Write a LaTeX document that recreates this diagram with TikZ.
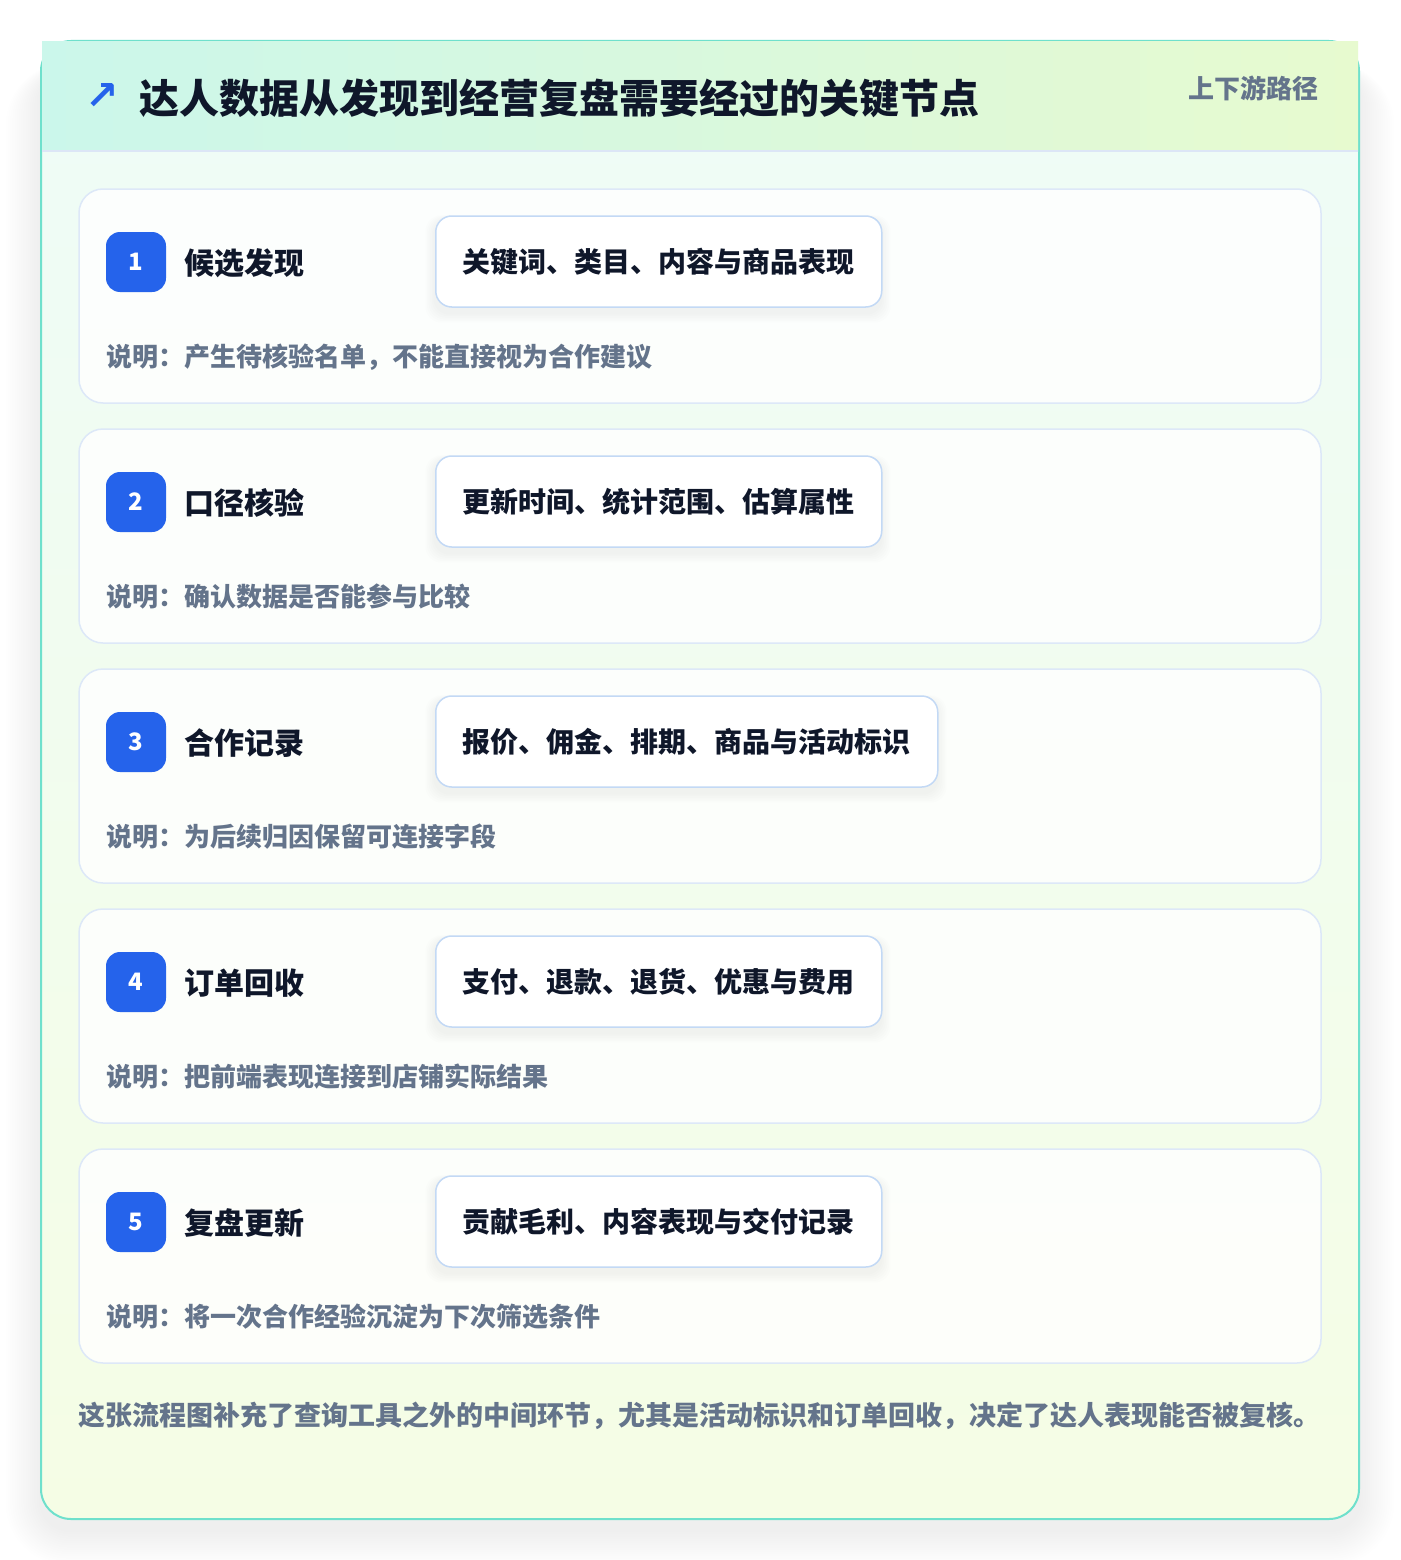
\documentclass[tikz,border=0pt]{standalone}
\usepackage{fontspec}
\setmainfont{Noto Sans CJK SC}
\newfontfamily\symfont{DejaVu Sans}
\definecolor{pagebg}{HTML}{FFFFFF}
\definecolor{cardtop}{HTML}{EEFCF7}
\definecolor{cardbot}{HTML}{F5FDE5}
\definecolor{cardborder}{HTML}{6FE0CC}
\definecolor{headL}{HTML}{CBF7EB}
\definecolor{headR}{HTML}{E7FACF}
\definecolor{headline}{HTML}{DCE6F6}
\definecolor{stepborder}{HTML}{DDE8F8}
\definecolor{tagborder}{HTML}{C3D9F5}
\definecolor{badgeblue}{HTML}{2563EB}
\definecolor{ink}{HTML}{0F172A}
\definecolor{muted}{HTML}{64748B}
\begin{document}
\begin{tikzpicture}[x=1pt,y=-1pt,
  txt/.style={inner sep=0pt, outer sep=0pt, text height=0.88*#1, text depth=0.12*#1},
  maintitle/.style={txt=40pt, anchor=west, text=ink, font=\fontsize{40}{48}\selectfont\bfseries},
  sidelabel/.style={txt=26pt, anchor=east, text=muted, font=\fontsize{26}{30}\selectfont\bfseries},
  stepcard/.style={draw=stepborder, line width=1.5pt, fill=white, fill opacity=0.82, text opacity=1, rounded corners=24pt, minimum width=1242pt, minimum height=214pt, inner sep=0pt, outer sep=0pt},
  badge/.style={fill=badgeblue, rounded corners=14pt, minimum size=60pt, inner sep=0pt, text=white, font=\fontsize{24}{26}\selectfont\bfseries},
  steptitle/.style={txt=30pt, anchor=west, text=ink, font=\fontsize{30}{36}\selectfont\bfseries},
  tagbox/.style={draw=tagborder, line width=1.5pt, fill=white, rounded corners=16pt, minimum height=91pt, inner sep=0pt, text height=0.88*28pt, text depth=0.12*28pt, anchor=west, text=ink, font=\fontsize{28}{32}\selectfont\bfseries},
  desc/.style={txt=26pt, anchor=west, text=muted, font=\fontsize{26}{30}\selectfont\bfseries},
  foot/.style={txt=27pt, anchor=west, text=muted, font=\fontsize{27}{32}\selectfont\bfseries}
]
\useasboundingbox (0,0) rectangle (1400,1560);
\fill[pagebg] (0,0) rectangle (1400,1560);
% soft shadow of the outer card
\foreach \k in {1,...,16} {
  \pgfmathsetmacro\rr{30+\k*2}
  \pgfmathsetmacro\ex{\k*2.2}
  \fill[black, opacity=0.0045, rounded corners=\rr pt] (41-\ex, 70-\ex*0.2) rectangle (1359+\ex, 1530+\ex);
}
% outer card
\shade[rounded corners=30pt, top color=cardtop, bottom color=cardbot] (41,41) rectangle (1359,1519);
\draw[cardborder, line width=2pt, rounded corners=30pt] (41,41) rectangle (1359,1519);
% header band
\shade[left color=headL, right color=headR] (42,42) rectangle (1358,151);
\draw[headline, line width=1.5pt] (42,151) -- (1358,151);
\node[inner sep=0pt, text=badgeblue, font=\fontsize{40}{44}\selectfont\symfont\bfseries] (icon) at (102,97) {↗};
\node[maintitle] (title) at (139,98) {达人数据从发现到经营复盘需要经过的关键节点};
\node[sidelabel] (side) at (1318,89) {上下游路径};
% step cards
\foreach \i/\t/\g/\d/\w in {
  1/候选发现/关键词、类目、内容与商品表现/说明：产生待核验名单，不能直接视为合作建议/446,
  2/口径核验/更新时间、统计范围、估算属性/说明：确认数据是否能参与比较/446,
  3/合作记录/报价、佣金、排期、商品与活动标识/说明：为后续归因保留可连接字段/502,
  4/订单回收/支付、退款、退货、优惠与费用/说明：把前端表现连接到店铺实际结果/446,
  5/复盘更新/贡献毛利、内容表现与交付记录/说明：将一次合作经验沉淀为下次筛选条件/446} {
  \pgfmathsetmacro\y{189+(\i-1)*240}
  \node[stepcard] (card\i) at (700,\y+107) {};
  \node[badge] (badge\i) at (136,\y+73) {\i};
  \node[steptitle] (stitle\i) at (184,\y+74) {\t};
  \foreach \s in {1,...,6} {
    \pgfmathsetmacro\sx{\s*1.6}
    \fill[black, opacity=0.008, rounded corners=16pt] (435-\sx, \y+27+4-\sx*0.5) rectangle (435+\w+\sx, \y+118+6+\sx);
  }
  \node[tagbox, minimum width=\w pt] (tag\i) at (435,\y+72.5) {\g};
  \node[desc] (desc\i) at (106,\y+168) {\d};
}
\node[foot] (footer) at (78,1415) {这张流程图补充了查询工具之外的中间环节，尤其是活动标识和订单回收，决定了达人表现能否被复核。};
\end{tikzpicture}
\end{document}
